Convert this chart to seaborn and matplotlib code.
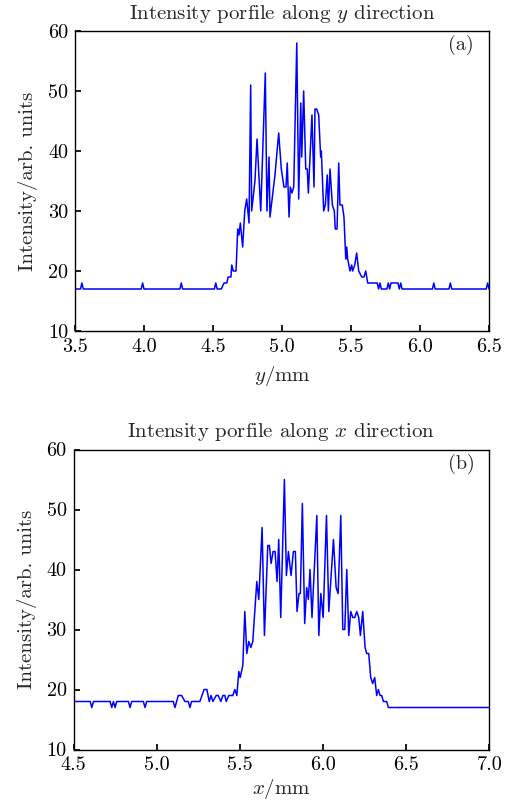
import matplotlib
matplotlib.use("Agg")
import matplotlib.pyplot as plt
import seaborn as sns
import pandas as pd

# ---- data: panel (a), intensity along y ----
y_pos = [3.50, 3.54, 3.55, 3.56, 3.98, 3.99, 4.00, 4.26, 4.27, 4.28, 4.51, 4.52, 4.53,
         4.56, 4.58, 4.60, 4.61, 4.63, 4.636, 4.647, 4.667, 4.679, 4.688, 4.698, 4.715,
         4.730, 4.744, 4.761, 4.773, 4.780, 4.804, 4.819, 4.846, 4.879, 4.891, 4.906,
         4.913, 4.949, 4.976, 4.995, 5.014, 5.029, 5.038, 5.051, 5.060, 5.072, 5.085,
         5.107, 5.121, 5.136, 5.143, 5.157, 5.172, 5.183, 5.191, 5.217, 5.232, 5.239,
         5.251, 5.266, 5.280, 5.285, 5.302, 5.314, 5.328, 5.336, 5.348, 5.365, 5.379,
         5.386, 5.399, 5.411, 5.420, 5.437, 5.449, 5.462, 5.469, 5.476, 5.493, 5.505,
         5.512, 5.527, 5.541, 5.556, 5.578, 5.594, 5.607, 5.621, 5.690, 5.70, 5.71,
         5.72, 5.76, 5.77, 5.78, 5.79, 5.84, 5.85, 5.86, 5.87, 6.09, 6.10, 6.11, 6.21,
         6.22, 6.23, 6.48, 6.49, 6.50]
y_int = [17, 17, 18, 17, 17, 18, 17, 17, 18, 17, 17, 18, 17,
         17, 18, 18, 19, 19, 21, 20, 20, 27, 26, 28, 24,
         30, 32, 28, 51, 30, 35, 42, 30, 53, 30, 39,
         29, 36, 43, 37, 34, 34, 38, 29, 34, 33, 34,
         58, 32, 48, 39, 50, 37, 37, 33, 46, 34, 47,
         47, 46, 39, 40, 30, 31, 36, 30, 37, 31, 30,
         27, 27, 38, 31, 31, 29, 22, 24, 22, 20, 21,
         20, 21, 23, 20, 19, 19, 20, 18, 18, 17, 18,
         17, 17, 18, 17, 18, 18, 17, 18, 17, 17, 18, 17, 17,
         18, 17, 17, 18, 17]

# ---- data: panel (b), intensity along x ----
x_pos = [4.50, 4.60, 4.61, 4.62, 4.72, 4.73, 4.74, 4.75, 4.76, 4.83, 4.84, 4.85, 4.92,
         4.93, 4.94, 5.10, 5.11, 5.12, 5.13, 5.15, 5.17, 5.19, 5.20, 5.21, 5.26, 5.285,
         5.302, 5.316, 5.327, 5.338, 5.358, 5.37, 5.386, 5.398, 5.41, 5.418, 5.434,
         5.458, 5.470, 5.482, 5.494, 5.502, 5.518, 5.530, 5.542, 5.554, 5.566, 5.578,
         5.602, 5.614, 5.634, 5.648, 5.668, 5.678, 5.688, 5.700, 5.712, 5.724, 5.734,
         5.746, 5.768, 5.780, 5.792, 5.808, 5.822, 5.834, 5.844, 5.856, 5.864, 5.876,
         5.890, 5.902, 5.912, 5.922, 5.934, 5.963, 5.975, 5.987, 6.001, 6.021, 6.035,
         6.063, 6.079, 6.091, 6.107, 6.119, 6.131, 6.143, 6.155, 6.167, 6.179, 6.191,
         6.203, 6.215, 6.225, 6.239, 6.253, 6.263, 6.275, 6.287, 6.299, 6.311, 6.323,
         6.333, 6.343, 6.353, 6.363, 6.383, 6.393, 7.00]
x_int = [18, 18, 17, 18, 18, 17, 18, 17, 18, 18, 17, 18, 18,
         17, 18, 18, 17, 18, 19, 19, 18, 18, 17, 18, 18, 20,
         20, 18, 19, 18, 19, 19, 18, 19, 19, 18, 19,
         19, 20, 19, 23, 22, 24, 33, 26, 28, 27, 28,
         38, 35, 47, 29, 44, 44, 41, 43, 43, 38, 45,
         32, 55, 39, 43, 39, 43, 43, 33, 36, 36, 51,
         31, 37, 35, 40, 32, 49, 29, 36, 32, 49, 33,
         45, 37, 36, 49, 30, 30, 40, 29, 33, 32, 32,
         33, 32, 29, 33, 27, 26, 26, 22, 21, 22, 19,
         20, 19, 19, 18, 18, 17, 17]

titles = ["Intensity porfile along $y$ direction", "Intensity porfile along $x$ direction"]
xlabels = ["$y$/mm", "$x$/mm"]
panel_tags = ["(a)", "(b)"]
ylabel = "Intensity/arb. units"
xticks_a = [3.5, 4.0, 4.5, 5.0, 5.5, 6.0, 6.5]
xticks_b = [4.5, 5.0, 5.5, 6.0, 6.5, 7.0]
yticks = [10, 20, 30, 40, 50, 60]

FS = 15
TFS = 14.5

sns.set_theme(style="ticks")
plt.rcParams.update({
    "font.family": ["cmr10", "DejaVu Serif"],
    "mathtext.fontset": "cm",
    "axes.formatter.use_mathtext": True,
    "axes.unicode_minus": False,
    "font.size": FS,
    "axes.linewidth": 1.0,
    "axes.edgecolor": "black",
    "xtick.direction": "in",
    "ytick.direction": "in",
    "xtick.major.size": 4,
    "ytick.major.size": 4,
    "xtick.color": "black",
    "ytick.color": "black",
})

fig = plt.figure(figsize=(5.13, 8.05), dpi=100)
ax_a = fig.add_axes([75 / 513, 474 / 805, 414 / 513, 300 / 805])
ax_b = fig.add_axes([73.5 / 513, 55.5 / 805, 415.8 / 513, 300 / 805])

panels = [
    (ax_a, pd.DataFrame({"pos": y_pos, "I": y_int}), (3.5, 6.5), xticks_a, 6),
    (ax_b, pd.DataFrame({"pos": x_pos, "I": x_int}), (4.5, 7.0), xticks_b, 2),
]

for i, (ax, df, xlim, xt, lp) in enumerate(panels):
    sns.lineplot(data=df, x="pos", y="I", ax=ax, color="#0000ff", linewidth=1.1,
                 estimator=None, sort=False)
    ax.set_xlim(*xlim)
    ax.set_ylim(10, 60)
    ax.set_xticks(xt)
    ax.set_xticklabels([f"{v:.1f}" for v in xt])
    ax.set_yticks(yticks)
    ax.set_yticklabels([str(v) for v in yticks])
    ax.tick_params(axis="x", labelsize=TFS, top=False, pad=5)
    ax.tick_params(axis="y", labelsize=TFS, right=False, pad=5)
    ax.set_title(titles[i], fontsize=FS, pad=9)
    ax.set_xlabel(xlabels[i], fontsize=FS, labelpad=lp)
    ax.set_ylabel(ylabel, fontsize=FS, labelpad=7)
    ax.text(0.932, 0.953, panel_tags[i], transform=ax.transAxes, ha="center",
            va="center", fontsize=TFS)
    for s in ax.spines.values():
        s.set_visible(True)
        s.set_color("black")

fig.savefig("out.png", dpi=100)
